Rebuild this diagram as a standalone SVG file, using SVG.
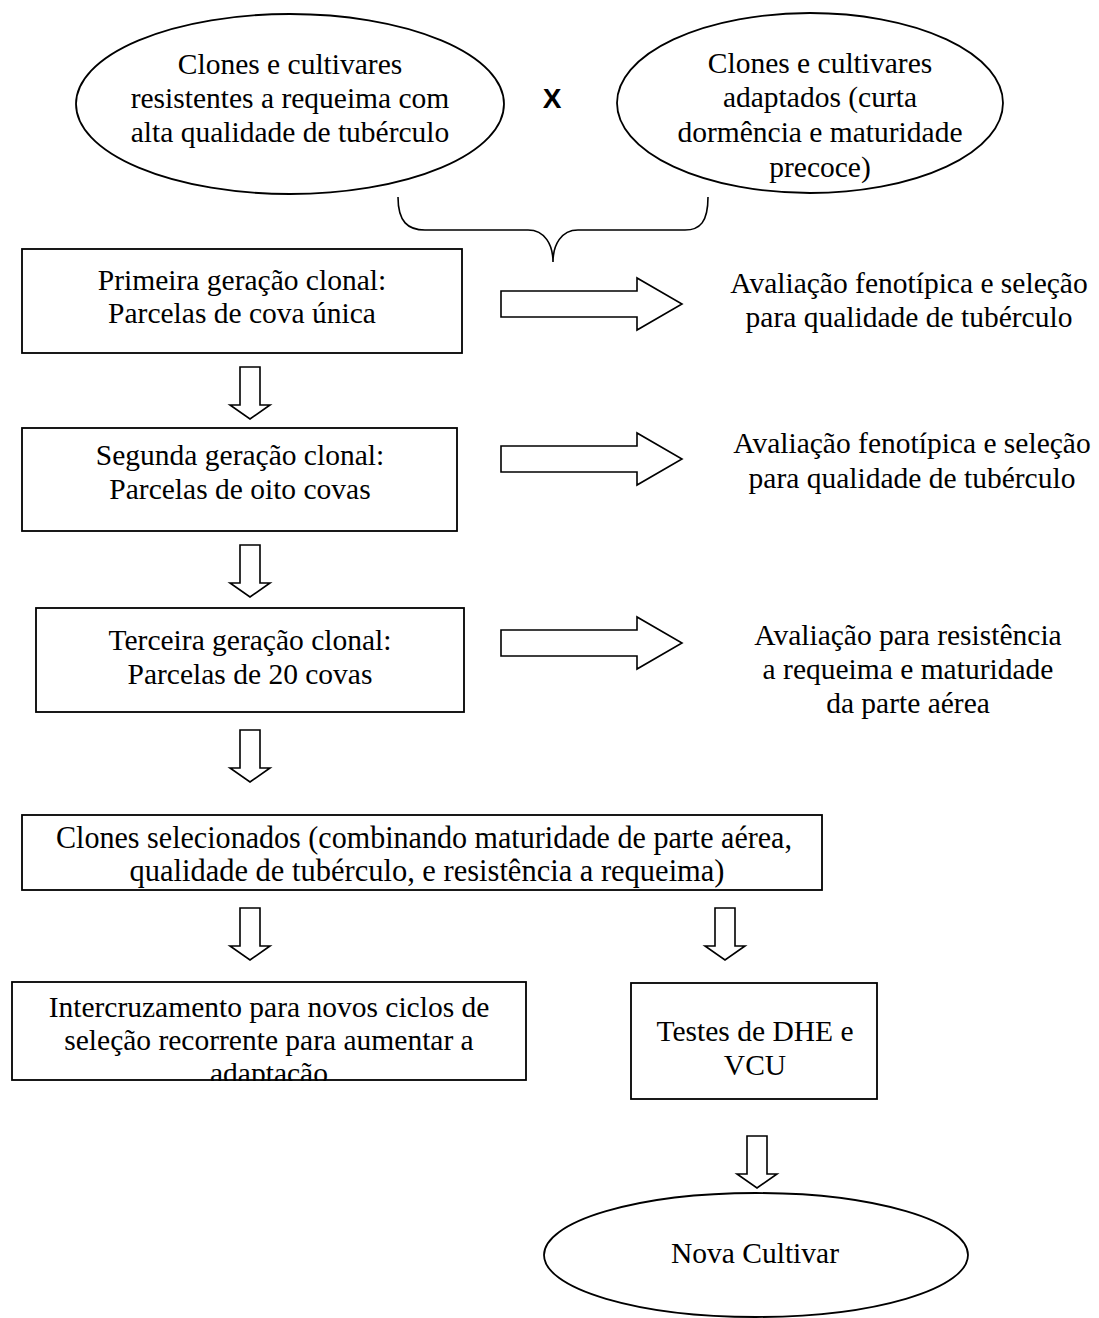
<svg xmlns="http://www.w3.org/2000/svg" xmlns:xlink="http://www.w3.org/1999/xlink" width="1099" height="1318" viewBox="0 0 1099 1318">
<style>
.shape{fill:#fff;stroke:#000;stroke-width:1.8}
.arr{fill:#fff;stroke:#000;stroke-width:1.6;stroke-linejoin:miter}
.t{font-family:"Liberation Serif","Times New Roman",serif;font-size:29.5px;fill:#000;text-anchor:middle}
.c{font-size:31px}
.x{font-family:"Liberation Sans",Arial,sans-serif;font-size:28px;font-weight:bold;fill:#000;text-anchor:middle}
</style>
<defs>
<path id="down" d="M-10,0 H10 V38 H20 L0,52 L-20,38 H-10 Z"/>
<path id="right" d="M0,-13 H136 V-26 L181,0 L136,26 V13 H0 Z"/>
<clipPath id="c4"><rect x="0" y="800" width="1099" height="91"/></clipPath>
<clipPath id="c5"><rect x="0" y="970" width="1099" height="111"/></clipPath>
</defs>
<rect width="1099" height="1318" fill="#fff"/>
<g id="connectors">
<path d="M398,197 C398,222 408,230 425,230 L528,230 C545,230 553,245 553,262 C553,245 561,230 578,230 L685,230 C700,230 708,222 708,197" fill="none" stroke="#000" stroke-width="1.6"/>
<use xlink:href="#right" class="arr" x="501" y="304"/>
<use xlink:href="#right" class="arr" x="501" y="459"/>
<use xlink:href="#right" class="arr" x="501" y="643"/>
<use xlink:href="#down" class="arr" x="250" y="367"/>
<use xlink:href="#down" class="arr" x="250" y="545"/>
<use xlink:href="#down" class="arr" x="250" y="730"/>
<use xlink:href="#down" class="arr" x="250" y="908"/>
<use xlink:href="#down" class="arr" x="725" y="908"/>
<use xlink:href="#down" class="arr" x="757" y="1136"/>
</g>
<g id="parent1">
<ellipse class="shape" cx="290" cy="104" rx="214" ry="90"/>
<text class="t" x="290" y="74">Clones e cultivares</text>
<text class="t" x="290" y="108">resistentes a requeima com</text>
<text class="t" x="290" y="142">alta qualidade de tubérculo</text>
</g>
<g id="cross"><text class="x" x="552" y="108">X</text></g>
<g id="parent2">
<ellipse class="shape" cx="810" cy="103" rx="193" ry="90"/>
<text class="t" x="820" y="73">Clones e cultivares</text>
<text class="t" x="820" y="107">adaptados (curta</text>
<text class="t" x="820" y="142">dormência e maturidade</text>
<text class="t" x="820" y="177">precoce)</text>
</g>
<g id="gen1">
<rect class="shape" x="22" y="249" width="440" height="104"/>
<text class="t" x="242" y="290">Primeira geração clonal:</text>
<text class="t" x="242" y="323">Parcelas de cova única</text>
</g>
<g id="eval1">
<text class="t" x="909" y="293">Avaliação fenotípica e seleção</text>
<text class="t" x="909" y="327">para qualidade de tubérculo</text>
</g>
<g id="gen2">
<rect class="shape" x="22" y="428" width="435" height="103"/>
<text class="t" x="240" y="465">Segunda geração clonal:</text>
<text class="t" x="240" y="499">Parcelas de oito covas</text>
</g>
<g id="eval2">
<text class="t" x="912" y="453">Avaliação fenotípica e seleção</text>
<text class="t" x="912" y="488">para qualidade de tubérculo</text>
</g>
<g id="gen3">
<rect class="shape" x="36" y="608" width="428" height="104"/>
<text class="t" x="250" y="650">Terceira geração clonal:</text>
<text class="t" x="250" y="684">Parcelas de 20 covas</text>
</g>
<g id="eval3">
<text class="t" x="908" y="645">Avaliação para resistência</text>
<text class="t" x="908" y="679">a requeima e maturidade</text>
<text class="t" x="908" y="713">da parte aérea</text>
</g>
<g id="selected">
<rect class="shape" x="22" y="815" width="800" height="75"/>
<g clip-path="url(#c4)">
<text class="t c" x="424" y="848" textLength="736" lengthAdjust="spacingAndGlyphs">Clones selecionados (combinando maturidade de parte aérea,</text>
<text class="t c" x="427" y="881" textLength="595" lengthAdjust="spacingAndGlyphs">qualidade de tubérculo, e resistência a requeima)</text>
</g>
</g>
<g id="intercross">
<rect class="shape" x="12" y="982" width="514" height="98"/>
<g clip-path="url(#c5)">
<text class="t" x="269" y="1017">Intercruzamento para novos ciclos de</text>
<text class="t" x="269" y="1050">seleção recorrente para aumentar a</text>
<text class="t" x="269" y="1083">adaptação</text>
</g>
</g>
<g id="tests">
<rect class="shape" x="631" y="983" width="246" height="116"/>
<text class="t" x="755" y="1041">Testes de DHE e</text>
<text class="t" x="755" y="1075">VCU</text>
</g>
<g id="newcultivar">
<ellipse class="shape" cx="756" cy="1255" rx="212" ry="62"/>
<text class="t" x="755" y="1263">Nova Cultivar</text>
</g>
</svg>
